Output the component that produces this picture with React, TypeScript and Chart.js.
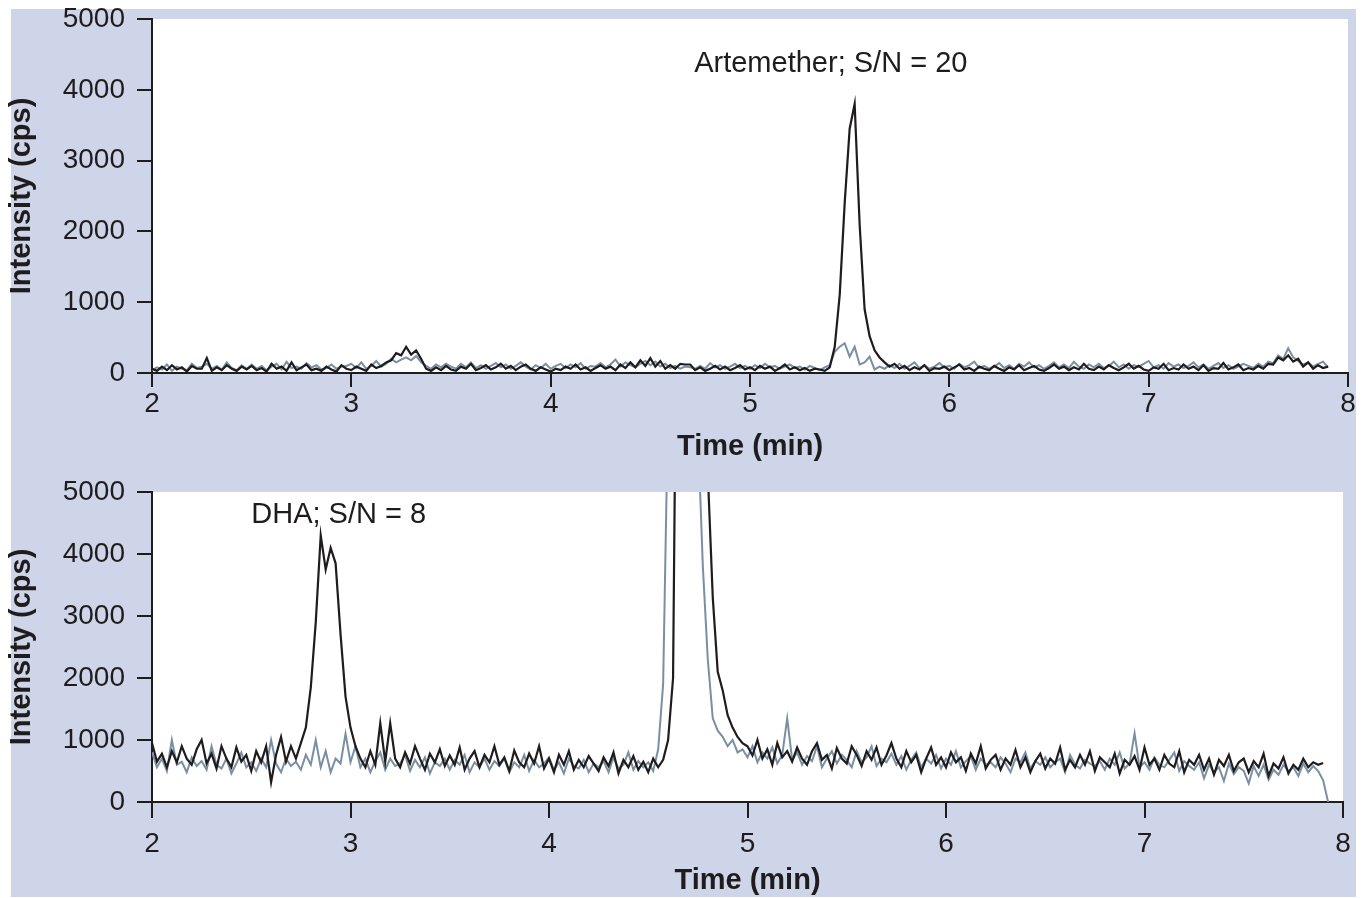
import React, { useEffect, useRef } from 'react';
import { Chart, registerables } from 'chart.js';

Chart.register(...registerables);

// Sampling: first time point and step (min)
const T0 = 2;
const DT = 0.025;

const X_TICKS = [2, 3, 4, 5, 6, 7, 8];
const Y_TICKS = [0, 1000, 2000, 3000, 4000, 5000];

// Top panel (Artemether), intensities in cps
const ARTEMETHER_SAMPLE = [
  60, 30, 90, 40, 110, 50, 80, 20, 100, 60,
  60, 210, 30, 80, 40, 110, 60, 30, 90, 50,
  100, 40, 70, 20, 130, 60, 90, 30, 150, 40,
  80, 120, 40, 60, 30, 90, 50, 20, 110, 60,
  40, 90, 60, 30, 120, 70, 100, 150, 180, 280,
  250, 370, 260, 320, 200, 60, 30, 80, 40, 100,
  50, 30, 90, 60, 130, 40, 70, 110, 50, 80,
  130, 60, 100, 40, 90, 120, 60, 30, 80, 50,
  20, 60, 40, 90, 60, 120, 50, 80, 30, 70,
  110, 60, 90, 40, 120, 70, 150, 80, 180, 100,
  210, 90, 170, 60, 110, 60, 130, 120, 120, 40,
  80, 30, 60, 100, 50, 90, 40, 70, 110, 50,
  80, 40, 100, 60, 90, 30, 70, 120, 50, 80,
  40, 70, 30, 60, 50, 30, 80, 370, 1100, 2400,
  3450, 3800, 2100, 900, 520, 320, 220, 150, 90, 130,
  60, 100, 40, 80, 50, 110, 30, 70, 60, 90,
  40, 80, 120, 50, 70, 30, 90, 60, 40, 100,
  60, 30, 80, 50, 110, 40, 70, 100, 50, 30,
  70, 120, 60, 90, 40, 80, 50, 130, 60, 40,
  90, 50, 110, 70, 40, 80, 130, 60, 100, 50,
  30, 80, 60, 130, 40, 70, 50, 120, 60, 90,
  40, 110, 30, 70, 60, 140, 50, 80, 120, 40,
  70, 50, 100, 60, 130, 120, 220, 180, 250, 160,
  200, 90, 150, 60, 110, 70, 90,
];

const ARTEMETHER_BLANK = [
  40, 80, 50, 120, 30, 90, 60, 40, 130, 70,
  90, 130, 60, 100, 50, 150, 70, 40, 110, 60,
  120, 60, 100, 40, 90, 130, 50, 160, 70, 90,
  60, 140, 80, 110, 50, 70, 120, 60, 90, 100,
  130, 70, 150, 60, 100, 170, 90, 130, 200, 150,
  190, 220, 180, 240, 150, 100, 60, 120, 80, 130,
  90, 60, 130, 80, 150, 70, 110, 60, 100, 140,
  80, 120, 60, 100, 150, 90, 50, 110, 70, 130,
  60, 100, 130, 70, 120, 80, 140, 60, 100, 90,
  140, 80, 120, 190, 90, 150, 110, 80, 130, 170,
  110, 160, 90, 130, 70, 100, 60, 90, 80, 60,
  100, 60, 140, 80, 110, 60, 90, 130, 70, 100,
  60, 110, 70, 130, 80, 100, 60, 90, 120, 70,
  90, 50, 100, 70, 40, 80, 110, 300, 370, 420,
  230, 370, 120, 150, 230, 50, 90, 60, 110, 70,
  130, 60, 100, 150, 70, 110, 60, 90, 140, 80,
  100, 60, 130, 80, 110, 160, 70, 100, 60, 90,
  140, 70, 110, 60, 130, 90, 150, 80, 110, 60,
  100, 150, 80, 120, 70, 160, 90, 60, 120, 80,
  130, 70, 100, 160, 80, 120, 60, 110, 90, 130,
  170, 80, 110, 60, 140, 90, 120, 70, 100, 150,
  80, 120, 60, 100, 140, 70, 110, 60, 90, 130,
  100, 70, 130, 90, 160, 140, 250, 200, 350, 220,
  170, 120, 150, 90, 130, 160, 80,
];

// Bottom panel (DHA), intensities in cps
const DHA_SAMPLE = [
  950, 650, 780, 560, 820, 640, 900, 700, 600, 850,
  1000, 620, 780, 540, 900, 700, 560, 880, 650, 760,
  500, 820, 640, 900, 320, 760, 1050, 650, 900, 700,
  950, 1200, 1850, 2900, 4300, 3750, 4100, 3850, 2700, 1700,
  1200, 900, 700, 560, 820, 600, 1270, 650, 1270, 700,
  560, 800, 620, 900, 700, 520, 780, 640, 850, 580,
  750, 600, 880, 520, 700, 820, 560, 760, 640, 900,
  600, 720, 500, 830, 640, 560, 780, 620, 900, 540,
  700, 480, 760, 600, 820, 520, 680, 560, 740, 620,
  500, 720, 580, 800, 460, 680, 560, 740, 520, 650,
  480, 700, 560, 680, 1000, 2000, 11000, 30000, 30000, 30000,
  15000, 9000, 5300, 3300, 2100, 1800, 1400, 1200, 1050, 950,
  900, 750, 1000, 700, 850, 600, 950, 720, 820, 650,
  880, 700, 600, 820, 950, 680, 760, 540, 870, 700,
  620, 900, 760, 580, 820, 680, 880, 600, 750, 950,
  700, 560, 820, 640, 760, 480, 700, 880, 600, 720,
  560, 800, 640, 720, 500, 780, 620, 900, 540, 680,
  760, 520, 700, 600, 840, 560, 720, 480, 660, 780,
  540, 700, 620, 880, 520, 680, 560, 760, 600, 820,
  500, 720, 640, 560, 780, 460, 680, 600, 740, 520,
  880, 600, 700, 520, 760, 620, 560, 820, 480, 680,
  600, 760, 520, 700, 440, 680, 580, 760, 500, 640,
  700, 480, 660, 560, 780, 420, 620, 540, 720, 460,
  600, 520, 700, 560, 640, 600, 630,
];

const DHA_BLANK = [
  800, 560, 700, 500, 1000, 600, 650, 480, 720, 580,
  660, 520, 900, 600, 540, 700, 460, 620, 800, 560,
  640, 500, 700, 560, 1000, 620, 480, 700, 580, 650,
  520, 760, 600, 1000, 560, 820, 480, 700, 620, 1100,
  640, 900, 560, 700, 480, 660, 800, 520, 700, 580,
  620, 760, 500, 680, 560, 720, 460, 640, 580, 700,
  520, 680, 600, 760, 480, 640, 560, 700, 520, 660,
  580, 700, 480, 640, 560, 760, 500, 680, 560, 620,
  720, 520, 640, 460, 700, 580, 540, 680, 480, 620,
  560, 660, 480, 720, 540, 600, 800, 520, 660, 560,
  640, 500, 850, 1900, 6400, 30000, 30000, 30000, 30000, 30000,
  6000, 3800, 2300, 1350, 1150, 1050, 900, 1000, 800, 850,
  720, 900, 640, 800, 700, 880, 620, 760, 1350, 680,
  800, 600, 740, 660, 900, 560, 700, 820, 620, 760,
  680, 560, 820, 640, 720, 900, 580, 700, 640, 780,
  600, 740, 520, 680, 800, 560, 700, 620, 760, 540,
  700, 600, 820, 560, 660, 740, 520, 700, 600, 640,
  560, 720, 620, 480, 700, 640, 800, 540, 660, 600,
  720, 560, 640, 700, 480, 760, 600, 540, 680, 620,
  580, 660, 520, 700, 600, 800, 540, 620, 1110, 560,
  640, 520, 720, 600, 560, 680, 800, 500, 660, 580,
  520, 640, 380, 600, 480, 560, 340, 620, 450, 560,
  500, 300, 580, 420, 600, 360, 520, 440, 600, 500,
  560, 420, 620, 480, 580, 500, 350, 0,
];

const TOP_LABEL = 'Artemether; S/N = 20';
const TOP_LABEL_AT = { x: 4.72, y: 4360 };
const BOTTOM_LABEL = 'DHA; S/N = 8';
const BOTTOM_LABEL_AT = { x: 2.5, y: 4630 };

const X_TITLE = 'Time (min)';
const Y_TITLE = 'Intensity (cps)';

const INK = '#1f1c1d';
const BLANK_COLOR = '#7b8fa3';
const FONT = "'Liberation Sans', Arial, Helvetica, sans-serif";

const toXY = (vals: number[]) => vals.map((v, i) => ({ x: T0 + i * DT, y: v }));

const plotBg = {
  id: 'plotBg',
  beforeDraw(chart: any) {
    const { ctx, chartArea } = chart;
    ctx.save();
    ctx.fillStyle = '#ffffff';
    ctx.fillRect(chartArea.left, chartArea.top, chartArea.right - chartArea.left, chartArea.bottom - chartArea.top);
    ctx.restore();
  },
};

const annot = {
  id: 'annot',
  afterDatasetsDraw(chart: any, _args: any, opts: any) {
    if (!opts || !opts.text) return;
    const { ctx, scales } = chart;
    ctx.save();
    ctx.font = `29px ${FONT}`;
    ctx.fillStyle = INK;
    ctx.textAlign = 'left';
    ctx.textBaseline = 'middle';
    ctx.fillText(opts.text, scales.x.getPixelForValue(opts.x), scales.y.getPixelForValue(opts.y));
    ctx.restore();
  },
};

type PanelProps = {
  sample: number[];
  blank: number[];
  label: string;
  labelAt: { x: number; y: number };
  top: number;
  height: number;
  padTop: number;
  padRight: number;
  xAxisHeight: number;
  xTickLen: number;
  xTickPad: number;
  xTitlePad: number;
};

function Panel(p: PanelProps) {
  const ref = useRef<HTMLCanvasElement>(null);
  useEffect(() => {
    const tickFont = { family: FONT, size: 28, lineHeight: 1.2 };
    const titleFont = { family: FONT, size: 29, weight: 'bold' as const, lineHeight: 1.2 };
    const chart = new Chart(ref.current as HTMLCanvasElement, {
      type: 'line',
      data: {
        datasets: [
          {
            data: toXY(p.sample),
            borderColor: INK,
            borderWidth: 2.2,
            pointRadius: 0,
            tension: 0,
            fill: false,
          },
          {
            data: toXY(p.blank),
            borderColor: BLANK_COLOR,
            borderWidth: 2,
            pointRadius: 0,
            tension: 0,
            fill: false,
          },
        ],
      },
      options: {
        animation: false,
        responsive: false,
        devicePixelRatio: 1,
        parsing: false as any,
        layout: { padding: { left: 0, top: p.padTop, right: p.padRight, bottom: 0 } },
        plugins: {
          legend: { display: false },
          tooltip: { enabled: false },
          annot: { text: p.label, x: p.labelAt.x, y: p.labelAt.y },
        } as any,
        scales: {
          x: {
            type: 'linear',
            min: 2,
            max: 8,
            afterBuildTicks: (s: any) => {
              s.ticks = X_TICKS.map((v) => ({ value: v }));
            },
            afterFit: (s: any) => {
              s.height = p.xAxisHeight;
              s.paddingLeft = 0;
              s.paddingRight = 0;
            },
            ticks: {
              color: INK,
              font: tickFont,
              padding: p.xTickPad,
              maxRotation: 0,
              callback: (v: any) => String(v),
            },
            grid: {
              drawOnChartArea: false,
              drawTicks: true,
              tickLength: p.xTickLen,
              color: INK,
              lineWidth: 2,
            },
            border: { display: true, color: INK, width: 2 },
            title: {
              display: true,
              text: X_TITLE,
              color: INK,
              font: titleFont,
              padding: { top: 0, bottom: p.xTitlePad },
            },
          },
          y: {
            type: 'linear',
            min: 0,
            max: 5000,
            afterBuildTicks: (s: any) => {
              s.ticks = Y_TICKS.map((v) => ({ value: v }));
            },
            afterFit: (s: any) => {
              s.width = 152;
              s.paddingTop = 0;
              s.paddingBottom = 0;
            },
            ticks: {
              color: INK,
              font: tickFont,
              padding: 12,
              callback: (v: any) => String(v),
            },
            grid: {
              drawOnChartArea: false,
              drawTicks: true,
              tickLength: 15,
              color: INK,
              lineWidth: 2,
            },
            border: { display: true, color: INK, width: 2 },
            title: {
              display: true,
              text: Y_TITLE,
              color: INK,
              font: titleFont,
              padding: { top: 5, bottom: 0 },
            },
          },
        },
      } as any,
      plugins: [plotBg, annot],
    });
    return () => chart.destroy();
  }, []);
  return (
    <div style={{ position: 'absolute', left: 0, top: p.top, width: 1368, height: p.height }}>
      <canvas ref={ref} width={1368} height={p.height} style={{ display: 'block' }} />
    </div>
  );
}

export default function App() {
  return (
    <div style={{ position: 'fixed', left: 0, top: 0, width: 1368, height: 898, background: '#ffffff', overflow: 'hidden' }}>
      <div style={{ position: 'absolute', left: 11, top: 9, width: 1345, height: 888, background: '#cfd5e9' }} />
      <Panel
        sample={ARTEMETHER_SAMPLE}
        blank={ARTEMETHER_BLANK}
        label={TOP_LABEL}
        labelAt={TOP_LABEL_AT}
        top={0}
        height={470}
        padTop={19}
        padRight={20}
        xAxisHeight={97}
        xTickLen={14}
        xTickPad={0}
        xTitlePad={6}
      />
      <Panel
        sample={DHA_SAMPLE}
        blank={DHA_BLANK}
        label={BOTTOM_LABEL}
        labelAt={BOTTOM_LABEL_AT}
        top={470}
        height={428}
        padTop={22}
        padRight={25}
        xAxisHeight={96}
        xTickLen={16}
        xTickPad={9}
        xTitlePad={0}
      />
    </div>
  );
}
